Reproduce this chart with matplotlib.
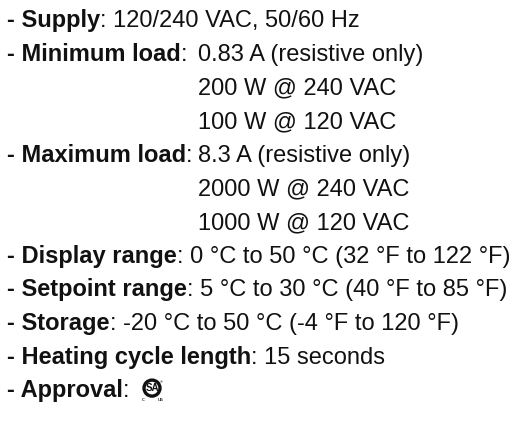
import matplotlib
matplotlib.use("Agg")
import matplotlib.pyplot as plt
from matplotlib.patches import Circle

W, H = 518, 423
labels = ["- Supply", "- Minimum load", "", "", "- Maximum load", "", "",
          "- Display range", "- Setpoint range", "- Storage",
          "- Heating cycle length", "- Approval"]
values = ["120/240 VAC, 50/60 Hz", "0.83 A (resistive only)", "200 W @ 240 VAC",
          "100 W @ 120 VAC", "8.3 A (resistive only)", "2000 W @ 240 VAC",
          "1000 W @ 120 VAC", "0 °C to 50 °C (32 °F to 122 °F)",
          "5 °C to 30 °C (40 °F to 85 °F)", "-20 °C to 50 °C (-4 °F to 120 °F)",
          "15 seconds", ""]

plt.rcParams['font.family'] = ['Liberation Sans', 'DejaVu Sans']
fig = plt.figure(figsize=(W / 100, H / 100), dpi=100)
fig.patch.set_facecolor("white")
fs = 17.0
col = "#111111"
x0 = 7
y0 = 27.5
dy = 33.6
cont_x = 198
renderer = fig.canvas.get_renderer()

def fx(px):
    return px / W

def fy(py):
    return 1 - py / H

for i, (lab, val) in enumerate(zip(labels, values)):
    yb = y0 + i * dy
    if lab:
        t = fig.text(fx(x0), fy(yb), lab, fontsize=fs, fontweight="bold",
                     color=col, va="baseline", ha="left")
        bb = t.get_window_extent(renderer)
        xe = bb.x1
        if lab in ("- Minimum load", "- Maximum load"):
            fig.text(xe / W, fy(yb), ":", fontsize=fs, color=col,
                     va="baseline", ha="left")
            if val:
                fig.text(fx(cont_x), fy(yb), val, fontsize=fs, color=col,
                         va="baseline", ha="left")
        else:
            fig.text(xe / W, fy(yb), ": " + val, fontsize=fs, color=col,
                     va="baseline", ha="left")
    else:
        fig.text(fx(cont_x), fy(yb), val, fontsize=fs, color=col,
                 va="baseline", ha="left")

# CSA logo approximation
yb = y0 + 11 * dy
ax = fig.add_axes([fx(138), fy(yb + 6), 28 / W, 28 / H])
ax.set_xlim(0, 28)
ax.set_ylim(0, 28)
ax.set_aspect("equal")
ax.axis("off")
ax.add_patch(Circle((14, 15), 8, facecolor="none", edgecolor="#111111", lw=2.4))
ax.text(14, 15, "SA", fontsize=7, fontweight="bold", ha="center", va="center", color="#111111")
ax.text(5.5, 4, "c", fontsize=4, ha="center", va="center", color="#111111")
ax.text(22.5, 4, "us", fontsize=4, ha="center", va="center", color="#111111")
ax.text(23, 20.5, "®", fontsize=3, ha="center", va="center", color="#111111")

fig.savefig("out.png", dpi=100, facecolor="white")
